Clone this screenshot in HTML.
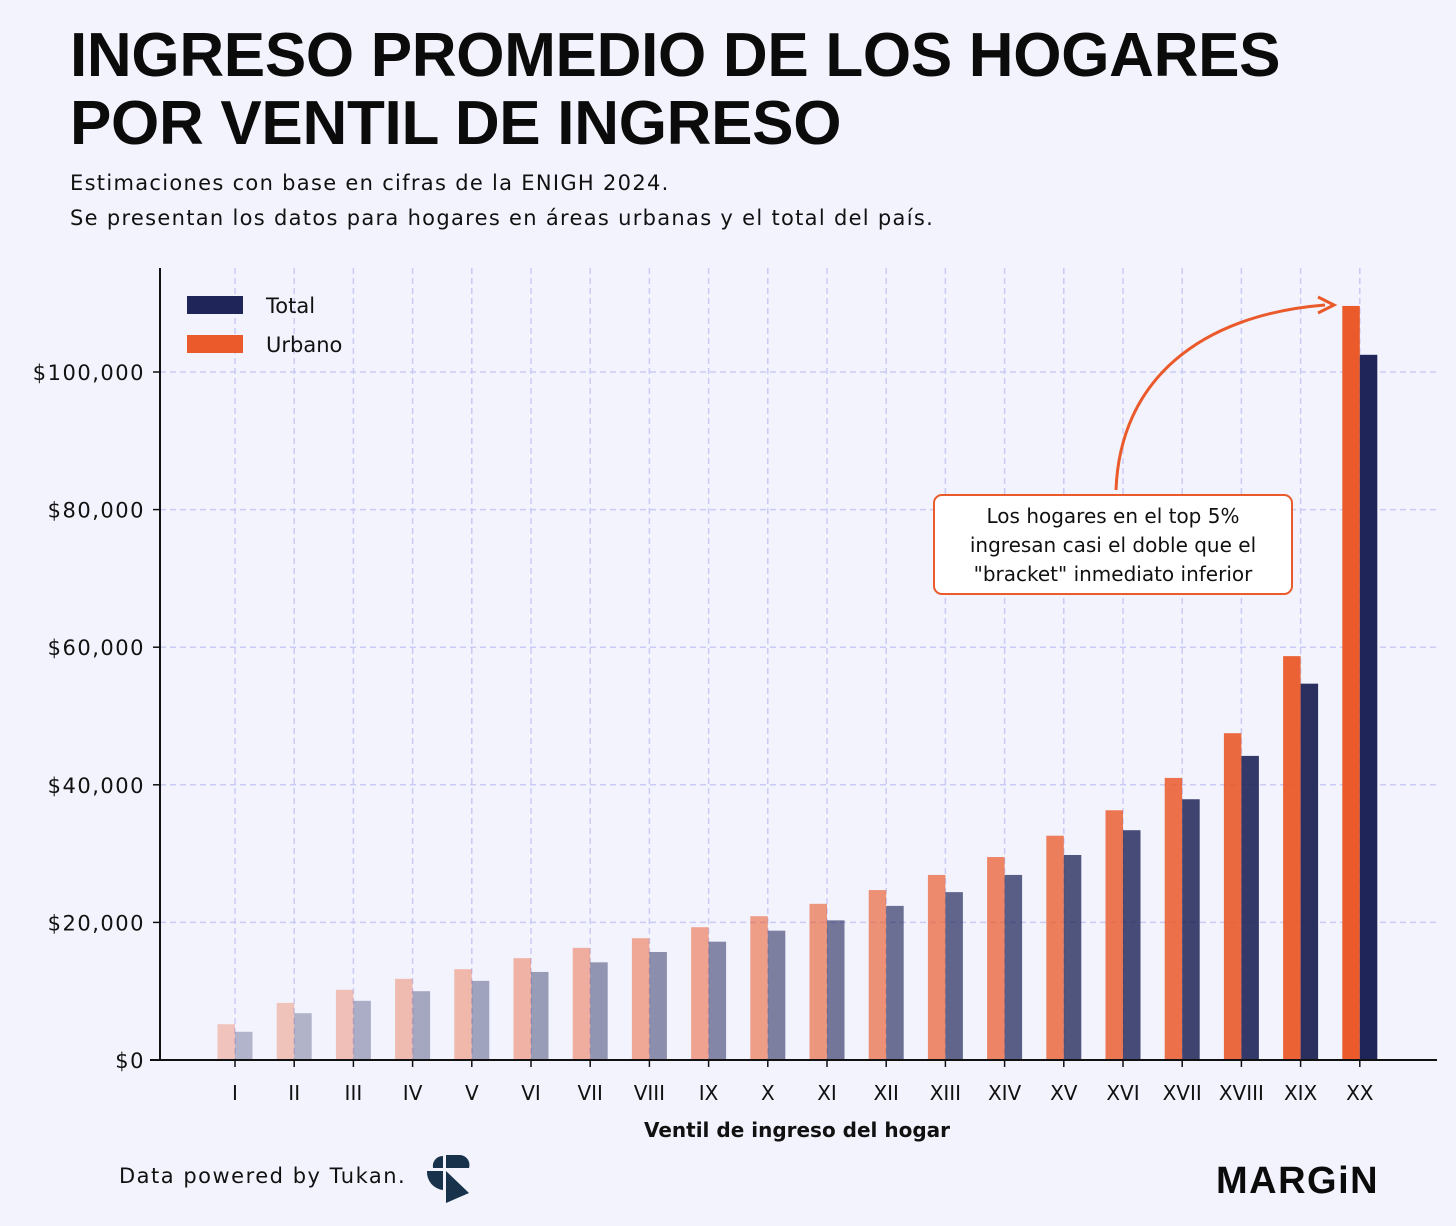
<!DOCTYPE html>
<html><head><meta charset="utf-8"><style>
body{margin:0;background:#f3f3fd;font-family:"Liberation Sans",sans-serif;}
#wrap{position:relative;width:1456px;height:1226px;overflow:hidden;background:#f3f3fd;}
h1{position:absolute;left:70px;top:22px;margin:0;font-size:62px;line-height:68px;font-weight:bold;color:#0b0b0b;letter-spacing:-0.3px;}
.sub{position:absolute;left:70px;font-size:21px;letter-spacing:1.3px;color:#111;font-family:"DejaVu Sans",sans-serif;}
</style></head><body>
<div id="wrap">
<h1>INGRESO PROMEDIO DE LOS HOGARES<br>POR VENTIL DE INGRESO</h1>
<div class="sub" style="top:171px">Estimaciones con base en cifras de la ENIGH 2024.</div>
<div class="sub" style="top:206px">Se presentan los datos para hogares en áreas urbanas y el total del país.</div>
<svg id="chart" width="1456" height="1226" style="position:absolute;left:0;top:0"></svg>
</div>
<script>
const categories=["I","II","III","IV","V","VI","VII","VIII","IX","X","XI","XII","XIII","XIV","XV","XVI","XVII","XVIII","XIX","XX"];
const urbano=[5200,8300,10200,11800,13200,14800,16300,17700,19300,20900,22700,24700,26900,29500,32600,36300,41000,47500,58700,109600];
const total=[4100,6800,8600,10000,11500,12800,14200,15700,17200,18800,20300,22400,24400,26900,29800,33400,37900,44200,54700,102500];
const yTicks=[0,20000,40000,60000,80000,100000];
const yTickLabels=["$0","$20,000","$40,000","$60,000","$80,000","$100,000"];

const NS="http://www.w3.org/2000/svg";
const svg=document.getElementById('chart');
function el(t,a,p){const e=document.createElementNS(NS,t);for(const k in a)e.setAttribute(k,a[k]);(p||svg).appendChild(e);return e;}
const DJ='DejaVu Sans, sans-serif';
const y0=1060,yPerUnit=(1060-372)/100000;
const Y=v=>y0-v*yPerUnit;
const X=i=>235+i*59.2;
const bw=17.5;
yTicks.forEach((t,i)=>{
 if(t>0){const g=el('line',{x1:160,x2:1436,y1:Y(t),y2:Y(t),stroke:'#c9cbf5','stroke-width':1.5,'stroke-dasharray':'6,4'});
 }
 const tx=el('text',{x:145,y:Y(t)+8,'text-anchor':'end','font-size':21,'letter-spacing':1.5,fill:'#111','font-family':DJ});
 tx.textContent=yTickLabels[i];
 
 const tk=el('line',{x1:153,x2:160,y1:Y(t),y2:Y(t),stroke:'#111','stroke-width':1.5});
 
});
categories.forEach((c,i)=>{
 const g=el('line',{x1:X(i),x2:X(i),y1:268,y2:1060,stroke:'#c9cbf5','stroke-width':1.5,'stroke-dasharray':'6,4'});
 
});
categories.forEach((c,i)=>{
 const op=0.3+0.7*Math.pow(i/(categories.length-1),1.3);
 const u=el('rect',{x:X(i)-bw,y:Y(urbano[i]),width:bw,height:urbano[i]*yPerUnit,fill:'#ea5a2b','fill-opacity':op});
 
 const t=el('rect',{x:X(i),y:Y(total[i]),width:bw,height:total[i]*yPerUnit,fill:'#1f2558','fill-opacity':op});
 
 const tk=el('line',{x1:X(i),x2:X(i),y1:1060,y2:1067,stroke:'#111','stroke-width':1.5});
 
 const tx=el('text',{x:X(i),y:1100,'text-anchor':'middle','font-size':20,fill:'#111','font-family':DJ});
 tx.textContent=c;
});
const ax=el('line',{x1:160,x2:160,y1:268,y2:1061,stroke:'#111','stroke-width':2});

const bx=el('line',{x1:150,x2:1437,y1:1060,y2:1060,stroke:'#111','stroke-width':2});

const xt=el('text',{x:797,y:1137,'text-anchor':'middle','font-size':20,'font-weight':'bold',fill:'#111','font-family':DJ});
xt.textContent='Ventil de ingreso del hogar';
[['Total','#1f2558',305],['Urbano','#ea5a2b',344]].forEach(([n,col,yy])=>{
 const r=el('rect',{x:187,y:yy-9,width:56,height:18,fill:col});
 
 const t=el('text',{x:266,y:yy+8,'font-size':21,fill:'#111','font-family':DJ});t.textContent=n;
 
});
const arr=el('path',{d:'M1116 490 C1120 380 1200 315 1325 305',fill:'none',stroke:'#ea5a2b','stroke-width':3});

const ah=el('path',{d:'M1318 297 L1334 305 L1318 313',fill:'none',stroke:'#ea5a2b','stroke-width':3});

const box=el('rect',{x:934,y:495,width:358,height:99,rx:8,fill:'#fff',stroke:'#ea5a2b','stroke-width':2});

['Los hogares en el top 5%','ingresan casi el doble que el','"bracket" inmediato inferior'].forEach((s,i)=>{
 const t=el('text',{x:1113,y:523+i*29,'text-anchor':'middle','font-size':20,fill:'#111','font-family':DJ});t.textContent=s;
 
});
const f=el('text',{x:119,y:1183,'font-size':21,'letter-spacing':1.5,fill:'#111','font-family':DJ});f.textContent='Data powered by Tukan.';

const lg=el('g',{fill:'#17324a'});
el('path',{d:'M433 1168 A10 10 0 0 1 443 1156 L443 1168 Z'},lg);
el('path',{d:'M446 1155 L460 1155 A10 10 0 0 1 469 1168 L446 1168 Z'},lg);
el('path',{d:'M427 1171 L443 1171 L443 1190 A18 18 0 0 1 427 1171 Z'},lg);
el('path',{d:'M446 1171 L469 1193 L446 1203 Z'},lg);
const m=el('text',{x:1216,y:1193,'font-size':38,'font-weight':'bold',fill:'#0b0b0b','letter-spacing':'1.5'});m.textContent='MARGiN';

</script>
</body></html>
